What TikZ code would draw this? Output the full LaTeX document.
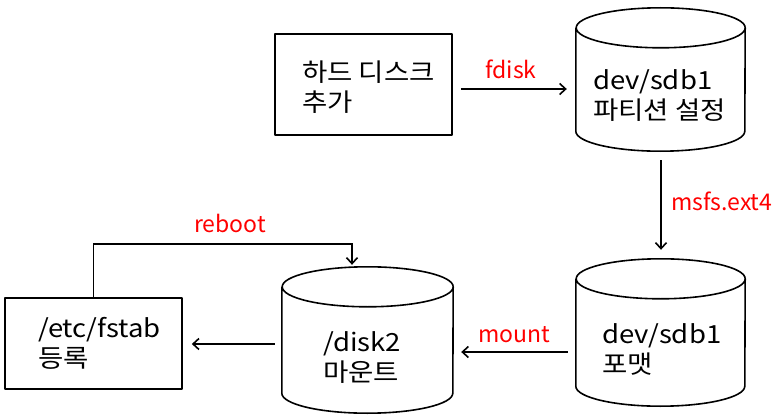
\documentclass[tikz,border=0pt]{standalone}
\usepackage{fontspec}
\setmainfont{Noto Sans CJK KR}
\newfontfamily\kwide{Noto Sans CJK KR}[FakeStretch=1.1]
\usetikzlibrary{arrows.meta,calc}
\definecolor{lblred}{RGB}{255,0,0}
\tikzset{
  shapeline/.style={line width=1.6pt, line join=round},
  boxnode/.style={draw, shapeline, inner sep=0pt},
  cylnode/.style={draw=none, inner sep=0pt},
  maintext/.style={font=\kwide\fontsize{25pt}{30pt}\selectfont, align=left, anchor=west, inner sep=0pt},
  lbl/.style={font=\fontsize{23pt}{28pt}\selectfont, text=lblred, inner sep=0pt},
  arr/.style={line width=1.6pt, -{Straight Barb[length=6pt,width=11pt,line width=1.6pt]}}
}
\newcommand\cylshape[2]{%
  \draw[shapeline] ([yshift=-20pt]#1.north west) -- ([yshift=20pt]#1.south west)
    arc[start angle=180, end angle=360, x radius=#2, y radius=20pt]
    -- ([yshift=-20pt]#1.north east)
    arc[start angle=0, end angle=180, x radius=#2, y radius=20pt]
    arc[start angle=180, end angle=360, x radius=#2, y radius=20pt];}
\begin{document}
\begin{tikzpicture}[x=1pt, y=-1pt]
\useasboundingbox (0,0) rectangle (780,420);
% shapes
\node[boxnode, minimum width=177pt, minimum height=101pt] (box1) at (363.5,84.5) {};
\node[boxnode, minimum width=177pt, minimum height=91pt] (box2) at (93.5,343.5) {};
\node[cylnode, minimum width=169pt, minimum height=143pt] (cyl1) at (660.5,79.5) {};
\node[cylnode, minimum width=169pt, minimum height=147pt] (cyl2) at (660.5,332.5) {};
\node[cylnode, minimum width=171pt, minimum height=146pt] (cyl3) at (367.5,340) {};
\cylshape{cyl1}{84.5pt}
\cylshape{cyl2}{84.5pt}
\cylshape{cyl3}{85.5pt}
% texts
\node[maintext] (t1) at (302,87) {하드 디스크\\추가};
\node[maintext] (t2) at (593,96) {dev/sdb1\\파티션 설정};
\node[maintext] (t3) at (602,349) {dev/sdb1\\포맷};
\node[maintext] (t4) at (323,358) {/disk2\\마운트};
\node[maintext] (t5) at (38,343) {/etc/fstab\\등록};
% labels
\node[lbl, anchor=base] (l1) at (511,79) {fdisk};
\node[lbl, anchor=base west] (l2) at (671,210) {msfs.ext4};
\node[lbl, anchor=base] (l3) at (514,342) {mount};
\node[lbl, anchor=base] (l4) at (230,232) {reboot};
% connectors
\draw[arr] ($(box1.east)+(8,4.5)$) -- ($(cyl1.west |- box1.east)+(-9,4.5)$);
\draw[arr] ($(cyl1.south)+(0.5,9)$) -- ($(cyl2.north)+(0.5,-9)$);
\draw[arr] ($(cyl2.west)+(-8,19.5)$) -- ($(cyl3.east |- cyl2.west)+(8,19.5)$);
\draw[arr] ($(cyl3.west)+(-7,4)$) -- ($(box2.east |- cyl3.west)+(9,4)$);
\draw[arr] (box2.north) |- ($(cyl3.north)+(-15.5,-23)$) -- ($(cyl3.north)+(-15.5,-2)$);
\end{tikzpicture}
\end{document}
